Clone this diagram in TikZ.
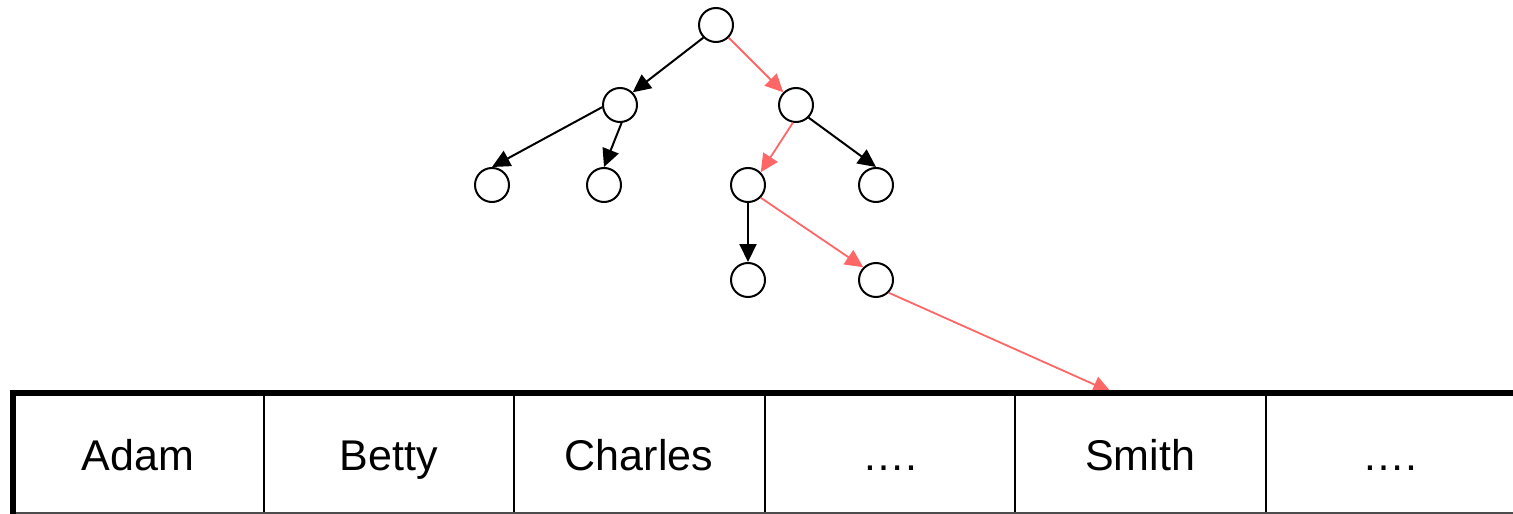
\documentclass[tikz,border=0pt]{standalone}
\usepackage{fontspec}
\setmainfont{Liberation Sans}
\usetikzlibrary{arrows.meta}
\definecolor{hl}{RGB}{255,102,102}
\begin{document}
\begin{tikzpicture}[x=1pt,y=-1pt,
  tn/.style={circle,draw,line width=2pt,minimum size=34pt,inner sep=0pt},
  ar/.style={line width=2pt,-{Triangle[length=18pt,width=17pt]}},
  hr/.style={draw=hl,line width=1.8pt,-{Triangle[length=18pt,width=17pt]},hl},
  cell/.style={font=\fontsize{43}{50}\selectfont,anchor=base}]
\useasboundingbox (0,0) rectangle (1513,514);
\node[tn] (r) at (716,25) {};
\node[tn] (l) at (620,105) {};
\node[tn] (rr) at (796,105) {};
\node[tn] (ll) at (492,185) {};
\node[tn] (lr) at (604,185) {};
\node[tn] (rl) at (748,185) {};
\node[tn] (rrr) at (876,185) {};
\node[tn] (rll) at (748,280) {};
\node[tn] (rlr) at (876,280) {};
\coordinate (tgt) at (1111,392);
\draw[ar] (r.225) -- (l.45);
\draw[hr] (r.-45) -- (rr.135);
\draw[ar] (l.187) -- (ll.north);
\draw[ar] (l.-85) -- (lr.north);
\draw[hr] (rr.-100) -- (rl.45);
\draw[ar] (rr.-45) -- (rrr.north);
\draw[ar] (rl.south) -- (rll.north);
\draw[hr] (rl.-45) -- (rlr.135);
\draw[hr] (rlr.-45) -- (tgt);
% table
\foreach \x in {263.5,514,764.5,1015,1265.5}
  \draw[line width=2pt] (\x,393) -- (\x,514);
\draw[line width=1.5pt,black!70] (13,513) -- (1513,513);
\draw[line width=6pt] (10,393) -- (1513,393);
\draw[line width=6pt] (13,390) -- (13,514);
\node[cell] (c1) at (138,470) {Adam};
\node[cell] (c2) at (388.5,470) {Betty};
\node[cell] (c3) at (639,470) {Charles};
\node[cell] (c4) at (889.5,470) {….};
\node[cell] (c5) at (1140,470) {Smith};
\node[cell] (c6) at (1390,470) {….};
\end{tikzpicture}
\end{document}
